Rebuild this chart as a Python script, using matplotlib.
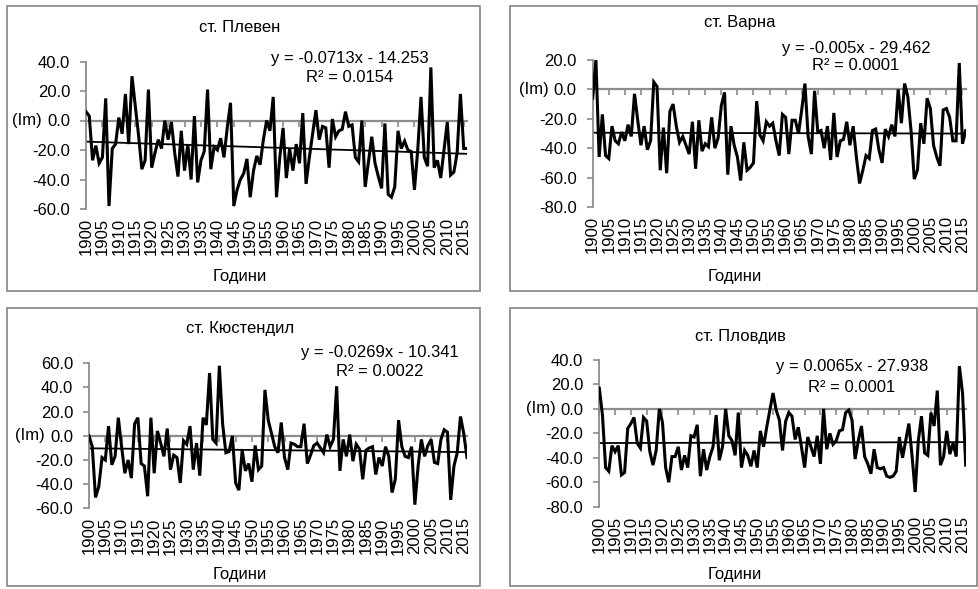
import matplotlib
matplotlib.use('Agg')
import matplotlib.pyplot as plt
import numpy as np
from matplotlib.patches import Rectangle

plt.rcParams['font.family'] = ['Liberation Sans', 'DejaVu Sans']

# ---------------- data ----------------
years = list(range(1900, 2017))
year_ticks = list(range(1900, 2016, 5))

pleven = [6, 3, -27, -17, -29, -25, 15, -58, -19, -16,
          2, -9, 18, -16, 30, 10, -10, -33, -27, 21,
          -32, -22, -13, -19, 0, -13, -1, -22, -38, -7,
          -34, -16, -40, 3, -42, -27, -21, 21, -33, -18,
          -20, -12, -25, -5, 12, -58, -47, -40, -36, -26,
          -52, -34, -24, -30, -13, 0, -7, 16, -52, -25,
          -5, -39, -19, -34, -16, -29, 5, -43, -25, -9,
          7, -13, -4, -5, -32, 1, -11, -7, -6, 6,
          -4, -3, -25, -28, 0, -45, -28, -11, -29, -38,
          -46, -2, -50, -52, -45, -7, -19, -14, -20, -21,
          -47, -20, 16, -25, -31, 36, -32, -27, -39, -20,
          -1, -37, -35, -22, 18, -19, -19]

varna = [-6, 20, -46, -17, -45, -47, -25, -35, -37, -29,
         -35, -24, -32, -3, -21, -38, -25, -41, -35, 5,
         2, -55, -26, -57, -15, -10, -25, -36, -32, -38,
         -44, -22, -54, -21, -42, -37, -39, -19, -40, -33,
         -11, -2, -58, -25, -38, -46, -62, -36, -55, -53,
         -50, -8, -31, -35, -22, -25, -23, -35, -45, -17,
         -19, -44, -21, -21, -30, -14, 4, -32, -44, -1,
         -29, -28, -40, -25, -48, -16, -46, -35, -34, -22,
         -38, -25, -46, -64, -55, -45, -47, -28, -27, -41,
         -50, -27, -32, -24, -32, 0, -23, 4, -5, -28,
         -61, -55, -23, -37, -6, -13, -38, -46, -52, -14,
         -13, -19, -35, -35, 18, -37, -28]

kyustendil = [0, -9, -51, -42, -18, -20, 8, -24, -17, 15,
              -9, -31, -20, -35, 10, 15, -23, -25, -50, 15,
              -31, 4, -6, -17, 6, -28, -16, -18, -39, -4,
              -7, 8, -28, -6, -33, 15, 9, 52, -3, -6,
              58, 10, -14, -13, 0, -39, -45, -12, -29, -23,
              -38, -8, -28, -25, 38, 13, 2, -9, -14, 11,
              -18, -28, -6, -7, -9, -9, 10, -23, -16, -8,
              -6, -10, -14, 1, -9, -3, 41, -29, -3, -17,
              1, -21, -7, -11, -36, -12, -10, -9, -32, -18,
              -25, -9, -17, -47, -36, 13, -9, -17, -18, -9,
              -57, -25, -3, -17, -8, -3, -22, -23, -3, 5,
              3, -53, -25, -14, 16, 2, -18]

plovdiv = [17, -5, -48, -51, -30, -35, -30, -54, -52, -16,
           -12, -7, -28, -32, -7, -10, -35, -46, -34, 0,
           -11, -48, -60, -39, -39, -31, -50, -38, -48, -22,
           -23, -13, -55, -33, -50, -39, -31, -5, -42, -31,
           0, -22, -26, -38, -3, -48, -34, -38, -47, -34,
           -48, -18, -31, -15, -1, 13, -1, -9, -34, -10,
           -3, -6, -25, -15, -31, -48, -23, -31, -39, -22,
           -45, 0, -33, -20, -29, -26, -18, -17, -3, -1,
           -9, -41, -26, -14, -39, -45, -53, -33, -48, -49,
           -48, -55, -56, -55, -51, -23, -40, -26, -12, -38,
           -68, -26, -6, -36, -38, -3, -14, 15, -46, -39,
           -18, -37, -28, -39, 35, 13, -46]

titles = ['ст. Плевен', 'ст. Варна', 'ст. Кюстендил', 'ст. Пловдив']
trend_slopes = [-0.0713, -0.005, -0.0269, 0.0065]
trend_intercepts = [-14.253, -29.462, -10.341, -27.938]
eq_texts = ['y = -0.0713x - 14.253', 'y = -0.005x - 29.462',
            'y = -0.0269x - 10.341', 'y = 0.0065x - 27.938']
r2_texts = ['R² = 0.0154', 'R² = 0.0001', 'R² = 0.0022', 'R² = 0.0001']
y_ranges = [(-60, 40), (-80, 20), (-60, 60), (-80, 40)]
x_label = 'Години'
y_label = '(Im)'

series = [pleven, varna, kyustendil, plovdiv]

# ---------------- layout (pixels) ----------------
W, H = 979, 589
fig = plt.figure(figsize=(W / 100, H / 100), dpi=100)
fig.patch.set_facecolor('white')

def fx(x):
    return x / W

def fy(y):
    return 1 - y / H

GRAY = '#8c8c8c'
FS = 12

# (left, top, right, bottom) of plotting area
axes_px = [(86, 61.5, 467, 209), (592.7, 60, 965.7, 207),
           (89, 363.3, 467, 508.3), (599.3, 360, 965.7, 506.7)]
borders_px = [(7, 6, 480, 291), (510, 6, 977, 291),
              (7, 308, 480, 586), (510, 308, 977, 586)]
title_px = [(240, 28), (740, 22), (240, 328), (740, 336)]
eq_px = [(350, 58, 78), (856, 49, 66), (380, 353, 372), (852, 367, 387)]
xlabel_px = [(240, 277), (735, 277), (240, 575), (735, 575)]

for k in range(4):
    l, t, r, b = borders_px[k]
    fig.patches.append(Rectangle((fx(l), fy(b)), (r - l) / W, (b - t) / H,
                                 transform=fig.transFigure, facecolor='none',
                                 edgecolor=GRAY, lw=1.3))

for k in range(4):
    l, t, r, b = axes_px[k]
    ax = fig.add_axes([fx(l), fy(b), (r - l) / W, (b - t) / H])
    ax.set_facecolor('none')
    lo, hi = y_ranges[k]
    vals = series[k]
    ax.plot(years, vals, color='black', lw=2.2, solid_joinstyle='miter', zorder=3)
    idx = np.arange(1, len(years) + 1)
    ax.plot(years, trend_slopes[k] * idx + trend_intercepts[k], color='black',
            lw=1.3, zorder=2)
    ax.set_xlim(years[0], years[-1])
    ax.set_ylim(lo, hi)
    ax.set_yticks(np.arange(lo, hi + 1, 20))
    ax.set_yticklabels([f'{v:.1f}' for v in np.arange(lo, hi + 1, 20)], fontsize=FS)
    for s in ['top', 'right']:
        ax.spines[s].set_visible(False)
    ax.spines['left'].set_color(GRAY)
    ax.spines['left'].set_linewidth(1.3)
    ax.spines['bottom'].set_position(('data', 0))
    ax.spines['bottom'].set_color(GRAY)
    ax.spines['bottom'].set_linewidth(1.6)
    ax.spines['bottom'].set_zorder(1)
    ax.tick_params(axis='y', direction='out', length=4, color=GRAY, width=1.2, pad=7.5)
    ax.set_xticks(year_ticks)
    ax.tick_params(axis='x', direction='out', length=4, color=GRAY, width=1.2,
                   labelbottom=False)
    sec = ax.secondary_xaxis(0)
    sec.set_xticks(year_ticks)
    sec.set_xticklabels([str(y) for y in year_ticks], rotation=90, fontsize=FS)
    sec.tick_params(length=0, pad=6.5)
    sec.spines['bottom'].set_visible(False)

    # station title
    tx, ty = title_px[k]
    fig.text(fx(tx), fy(ty), titles[k], ha='center', va='center', fontsize=FS)
    # trend equation
    ex, ey1, ey2 = eq_px[k]
    fig.text(fx(ex), fy(ey1), eq_texts[k], ha='center', va='center', fontsize=FS)
    fig.text(fx(ex), fy(ey2), r2_texts[k], ha='center', va='center', fontsize=FS)
    # axis titles
    xx, xy = xlabel_px[k]
    fig.text(fx(xx), fy(xy), x_label, ha='center', va='center', fontsize=FS)
    y0 = b - (0 - lo) / (hi - lo) * (b - t)
    fig.text(fx(l - 44), fy(y0), y_label, ha='right', va='center', fontsize=FS)

fig.savefig('out.png', dpi=100)
